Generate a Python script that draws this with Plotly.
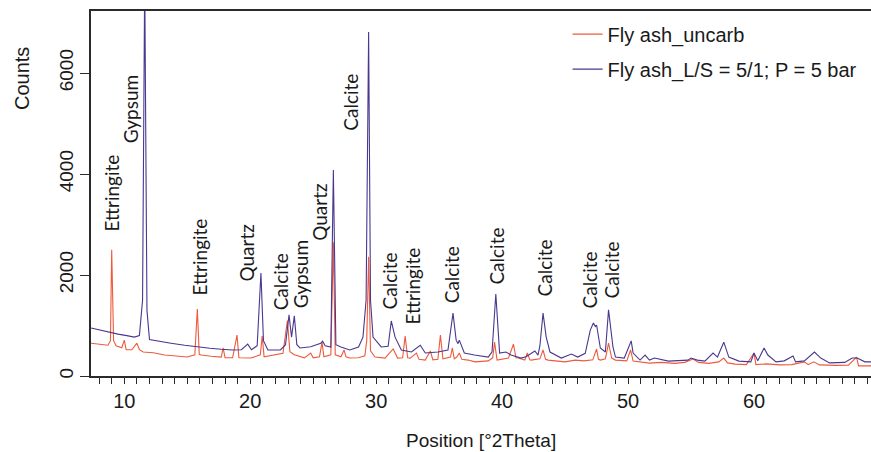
import plotly.graph_objects as go

# ---------------- data ----------------
uncarb_x = [7.36, 8.0, 8.7, 8.9, 9.0, 9.15, 9.35, 9.8, 10.0, 10.15, 10.6, 11.0, 11.2, 11.5, 12.3, 13.2, 14.0,
            15.0, 15.6, 15.8, 15.95, 16.1, 16.9, 17.7, 17.85, 18.0, 18.6, 18.95, 19.1, 20.06, 20.8, 20.95, 21.1,
            22.05, 22.6, 22.95, 23.15, 23.5, 24.3, 24.8, 25.0, 25.5, 25.7, 25.85, 26.4, 26.6, 26.75, 27.2, 27.45,
            27.6, 27.9, 28.6, 29.1, 29.25, 29.4, 29.55, 29.9, 30.7, 31.35, 31.7, 32.1, 32.3, 32.5, 32.7, 33.2,
            33.4, 33.9, 34.3, 34.5, 34.9, 35.1, 35.3, 35.5, 35.9, 36.05, 36.2, 36.4, 36.6, 36.8, 37.3, 37.85,
            38.9, 39.25, 39.4, 39.6, 40.5, 40.9, 41.1, 41.3, 41.8, 42.0, 42.2, 42.3, 43.0, 43.25, 43.45, 43.65,
            45.0, 45.8, 46.5, 47.2, 47.5, 47.65, 47.8, 48.2, 48.45, 48.7, 49.0, 49.9, 50.2, 50.4, 51.0, 51.7,
            52.6, 53.7, 54.5, 55.15, 55.6, 56.4, 57.2, 57.6, 57.9, 58.5, 59.4, 60.0, 60.15, 61.0, 62.0, 63.0,
            64.0, 64.3, 64.75, 65.2, 66.5, 67.5, 68.15, 68.3, 69.3]
uncarb_y = [650, 630, 610, 700, 2500, 700, 600, 560, 710, 520, 520, 650, 520, 475, 460, 415, 400,
            375, 420, 1325, 430, 415, 390, 375, 555, 360, 360, 810, 360, 355, 420, 790, 380,
            415, 450, 1100, 480, 420, 360, 455, 360, 380, 670, 380, 420, 2650, 420, 380, 515,
            380, 355, 360, 400, 700, 2360, 500, 375, 355, 535, 355, 360, 790, 360, 355, 455,
            330, 315, 495, 320, 330, 810, 340, 355, 375, 555, 340, 375, 455, 330, 315, 280,
            300, 360, 670, 315, 355, 630, 360, 355, 315, 455, 320, 315, 340, 515, 330, 315,
            280, 315, 300, 320, 535, 330, 315, 340, 650, 355, 315, 300, 515, 295, 280, 255,
            270, 250, 270, 335, 270, 250, 280, 355, 260, 235, 225, 455, 225, 240, 220, 225,
            280, 225, 280, 220, 210, 215, 375, 200, 200]

carb_x = [7.36, 8.0, 8.7, 9.5, 10.2, 10.8, 11.2, 11.45, 11.62, 11.8, 12.0, 12.8, 13.7, 14.8, 15.9, 16.8,
          17.7, 18.6, 19.3, 19.8, 20.1, 20.55, 20.85, 21.05, 21.4, 22.4, 22.8, 23.08, 23.28, 23.5, 23.7,
          23.95, 24.8, 25.6, 25.75, 25.95, 26.4, 26.6, 26.8, 27.2, 27.9, 28.6, 28.95, 29.2, 29.4, 29.55,
          29.75, 30.4, 30.95, 31.2, 31.5, 32.0, 32.8, 33.5, 33.9, 34.9, 35.7, 36.1, 36.35, 36.5, 36.6,
          37.0, 37.8, 38.9, 39.2, 39.5, 39.8, 40.3, 40.7, 41.5, 41.9, 42.6, 42.85, 43.0, 43.25, 43.5,
          43.8, 44.7, 45.5, 46.0, 46.6, 47.0, 47.25, 47.4, 47.5, 47.8, 48.2, 48.45, 48.8, 49.0, 49.7,
          50.25, 50.4, 50.95, 51.35, 51.7, 52.1, 53.2, 54.75, 55.0, 55.5, 56.1, 56.75, 57.1, 57.6, 58.0,
          58.8, 59.75, 60.0, 60.3, 60.8, 61.1, 61.75, 62.4, 63.1, 63.3, 64.0, 64.8, 65.3, 66.0, 67.2,
          67.8, 68.2, 68.8, 69.3]
carb_y = [950, 910, 870, 830, 800, 770, 800, 1500, 7900, 1300, 720, 680, 650, 610, 570, 550,
          530, 515, 520, 630, 520, 600, 2040, 700, 515, 515, 620, 1210, 770, 1190, 620,
          555, 580, 650, 690, 600, 575, 4080, 620, 575, 515, 575, 770, 1500, 6810, 1500,
          770, 575, 590, 1090, 770, 515, 475, 610, 455, 475, 515, 1245, 710, 640, 710,
          455, 415, 375, 480, 1625, 455, 475, 415, 355, 380, 495, 415, 600, 1245, 770,
          475, 355, 435, 375, 450, 910, 1050, 980, 1010, 555, 475, 1310, 575, 375, 355,
          695, 455, 315, 415, 315, 355, 295, 315, 355, 315, 295, 455, 375, 670, 375,
          295, 280, 455, 300, 555, 415, 280, 300, 395, 280, 300, 475, 355, 260, 270,
          355, 355, 280, 280]

series_names = ["Fly ash_uncarb", "Fly ash_L/S = 5/1; P = 5 bar"]

# phase labels: text, 2theta position, count level of the label's lower end
label_text = ["Ettringite", "Gypsum", "Ettringite", "Quartz", "Calcite", "Gypsum", "Quartz", "Calcite",
              "Calcite", "Ettringite", "Calcite", "Calcite", "Calcite", "Calcite", "Calcite"]
label_x = [9.02, 10.45, 15.93, 19.74, 22.36, 23.95, 25.55, 27.93, 31.02, 32.85, 36.0, 39.59, 43.4, 46.97, 48.72]
label_y = [2830, 4570, 1565, 1840, 1270, 1300, 2630, 4810, 1270, 970, 1405, 1780, 1545, 1305, 1505]

x_ticks = [10, 20, 30, 40, 50, 60]
y_ticks = [0, 2000, 4000, 6000]

# ---------------- figure ----------------
ORANGE = "#ee5a3c"
PURPLE = "#4a3790"
TXT = "#1a1a1a"
AX = "#2b2b2b"

fig = go.Figure()
fig.add_trace(go.Scatter(x=uncarb_x, y=uncarb_y, mode="lines", name=series_names[0], legendgroup="a",
                         line=dict(color=ORANGE, width=1.1)))
fig.add_trace(go.Scatter(x=carb_x, y=carb_y, mode="lines", name=series_names[1], legendgroup="b",
                         line=dict(color=PURPLE, width=1.1)))

for t, x, y in zip(label_text, label_x, label_y):
    fig.add_annotation(x=x, y=y, xref="x", yref="y", text=t, showarrow=False, textangle=-90,
                       xanchor="center", yanchor="bottom",
                       font=dict(family="Lato", size=19, color=TXT))

fig.add_annotation(x=0, y=1, xref="paper", yref="paper", xshift=-69, yshift=-68, text="Counts",
                   showarrow=False, textangle=-90, font=dict(family="Liberation Sans", size=20, color=TXT),
                   xanchor="center", yanchor="middle")
fig.add_annotation(x=0.5, y=0, xref="paper", yref="paper", yshift=-64, text="Position [°2Theta]",
                   showarrow=False, font=dict(family="Liberation Sans", size=19, color=TXT),
                   xanchor="center", yanchor="middle")

fig.update_layout(
    width=871, height=452,
    margin=dict(l=91, r=0, t=11, b=76),
    paper_bgcolor="white", plot_bgcolor="white",
    showlegend=True,
    legend=dict(x=0.611, y=0.99, xanchor="left", yanchor="top", bgcolor="rgba(0,0,0,0)",
                tracegroupgap=6,
                font=dict(family="Liberation Sans", size=20, color=TXT)),
    xaxis=dict(range=[7.356, 69.29], tickvals=x_ticks, ticks="outside", ticklen=6, tickwidth=1.2,
               tickcolor=AX, showline=True, linecolor=AX, linewidth=1.5, mirror=True,
               showgrid=False, zeroline=False,
               minor=dict(dtick=1, ticks="outside", ticklen=6, tickwidth=1, tickcolor=AX),
               tickfont=dict(family="Liberation Sans", size=20, color=TXT)),
    yaxis=dict(range=[0, 7228], tickvals=y_ticks, ticks="outside", ticklen=9, tickwidth=1.2,
               tickcolor=AX, showline=True, linecolor=AX, linewidth=1.5, mirror=False,
               showgrid=False, zeroline=False, tickangle=-90,
               tickfont=dict(family="Liberation Sans", size=19, color=TXT)),
)

fig.write_html("out.html", config={"displayModeBar": False},
               post_script="document.body.style.margin='0';document.body.style.overflow='hidden';")
